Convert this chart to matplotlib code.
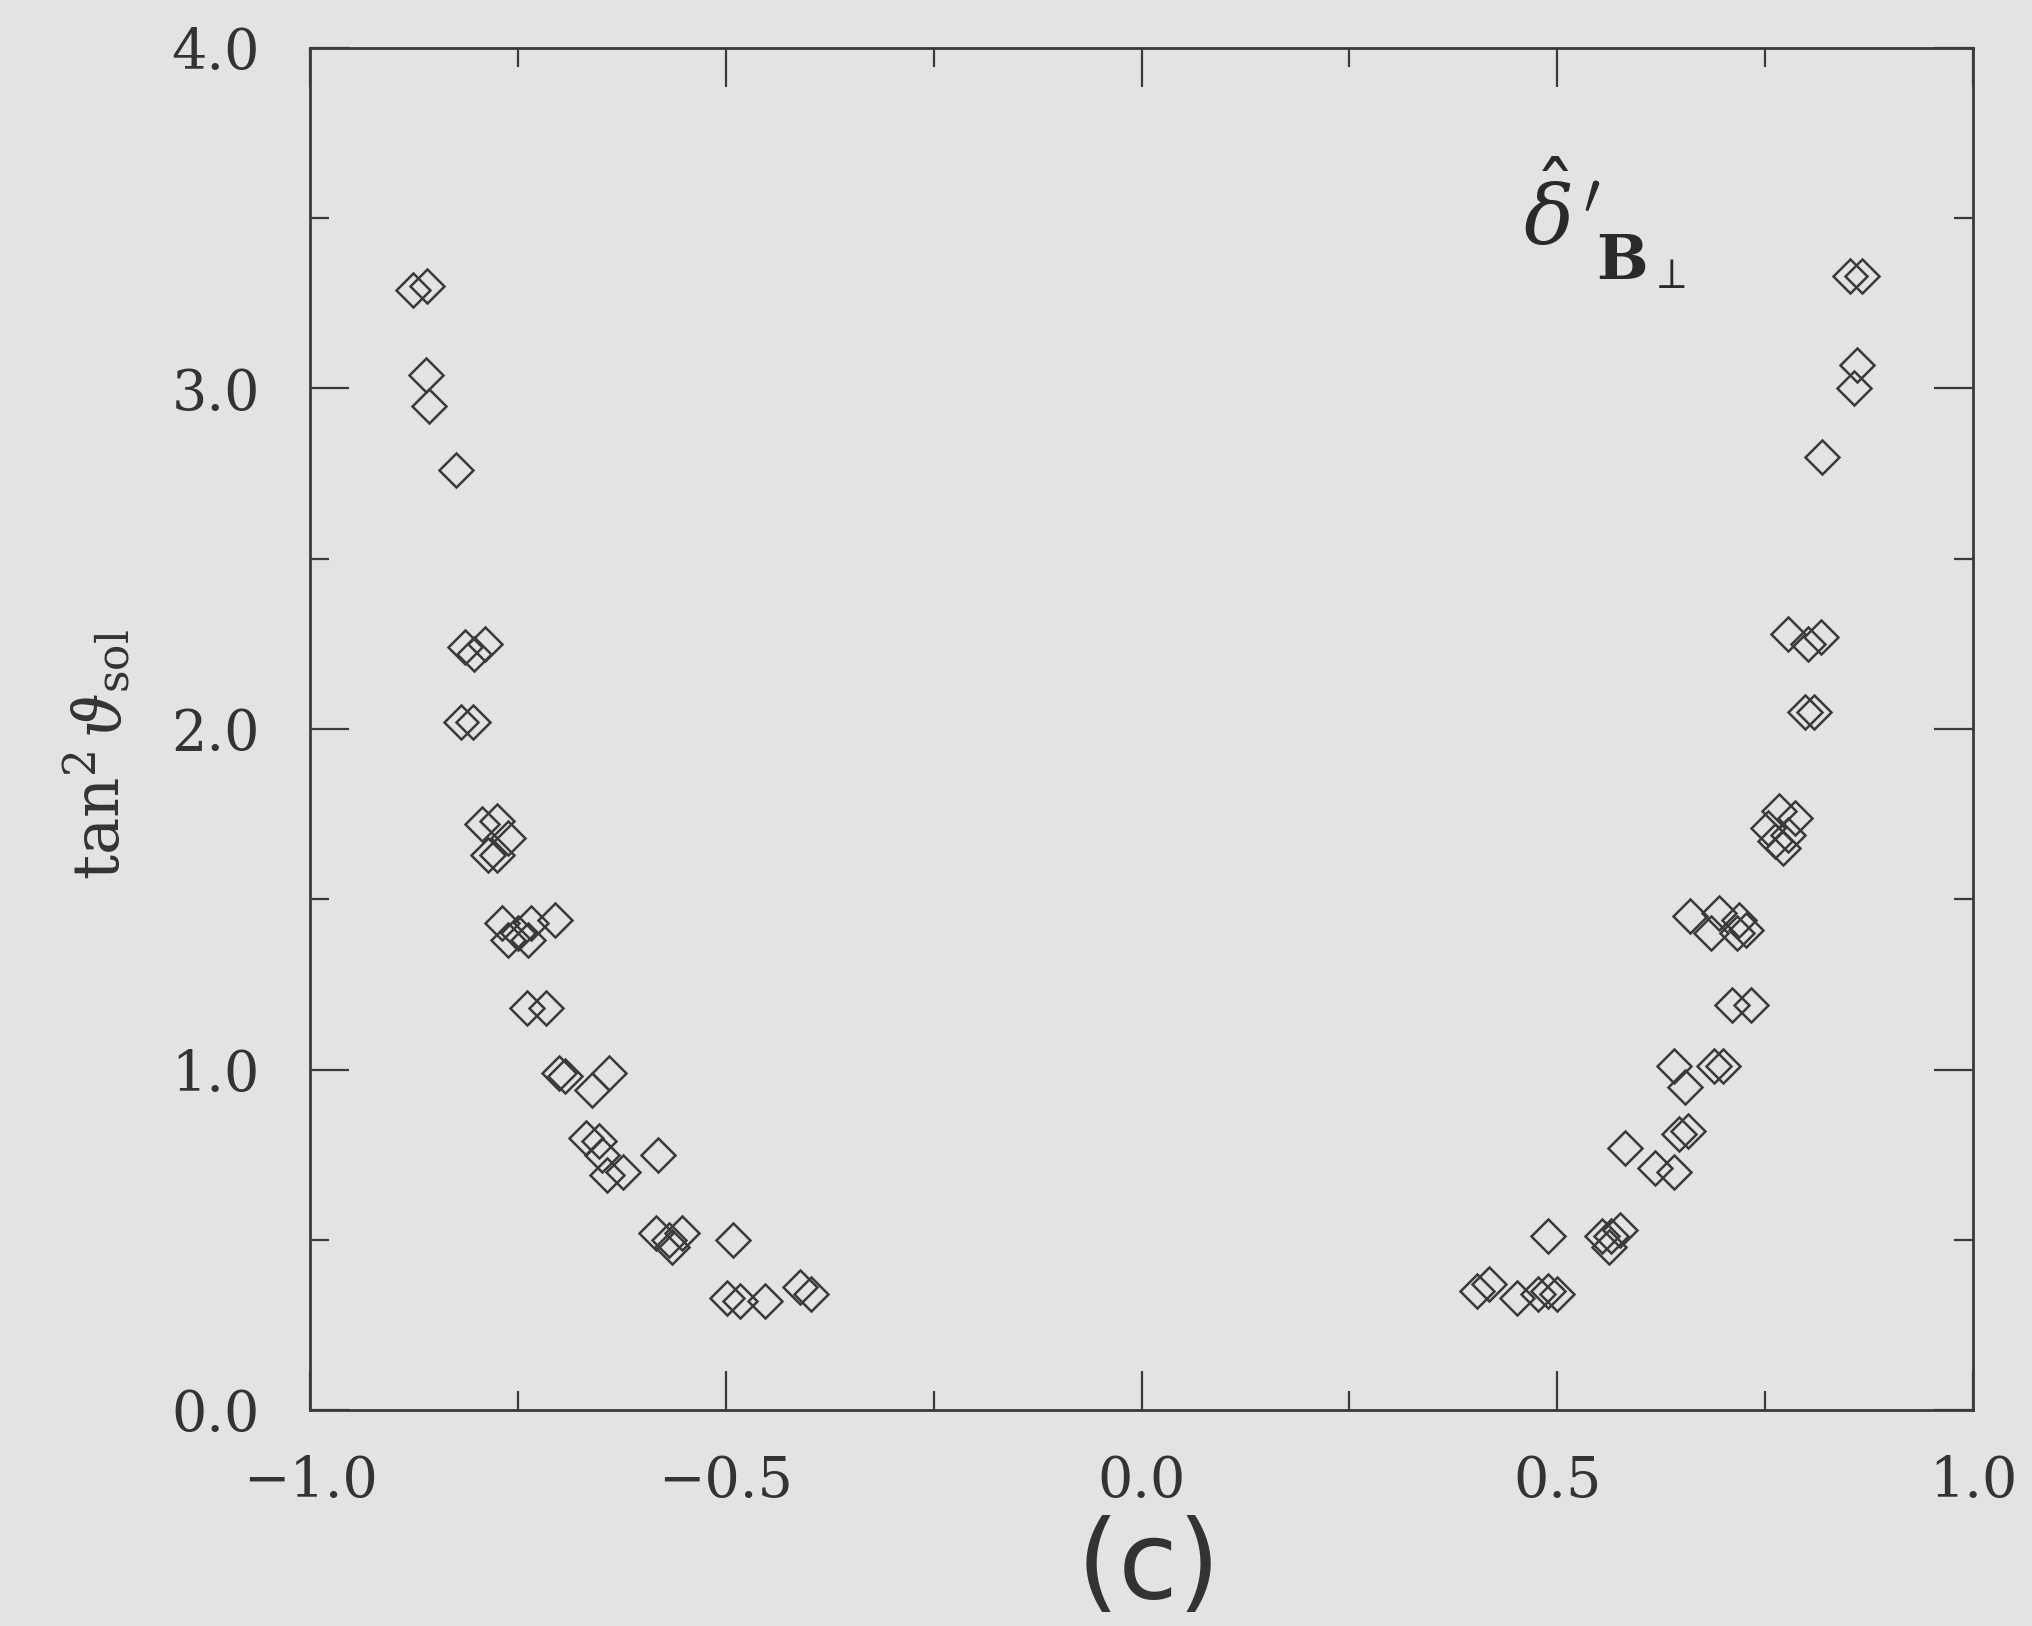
import numpy as np
import matplotlib
matplotlib.use("Agg")
import matplotlib.pyplot as plt
from matplotlib.ticker import MultipleLocator

# left branch (cos-like variable < 0)
x_left = [-0.876, -0.859, -0.860, -0.857, -0.825, -0.814, -0.803, -0.789, -0.818, -0.804,
          -0.793, -0.775, -0.762, -0.786, -0.775, -0.769, -0.750, -0.734, -0.705, -0.762,
          -0.738, -0.739, -0.716, -0.700, -0.693, -0.661, -0.640, -0.668, -0.652, -0.649,
          -0.643, -0.623, -0.582, -0.584, -0.568, -0.553, -0.565, -0.491, -0.498, -0.483,
          -0.453, -0.411, -0.398]
y_left = [3.29, 3.30, 3.04, 2.95, 2.76, 2.24, 2.22, 2.25, 2.02, 2.02,
          1.72, 1.73, 1.68, 1.63, 1.63, 1.43, 1.40, 1.43, 1.44, 1.38,
          1.38, 1.18, 1.18, 0.99, 0.98, 0.94, 0.99, 0.80, 0.79, 0.75,
          0.69, 0.70, 0.75, 0.52, 0.50, 0.52, 0.48, 0.50, 0.33, 0.32,
          0.32, 0.36, 0.34]

# right branch
x_right = [0.404, 0.418, 0.452, 0.477, 0.489, 0.500, 0.489, 0.554, 0.565, 0.575,
           0.562, 0.581, 0.618, 0.640, 0.640, 0.646, 0.657, 0.654, 0.688, 0.699,
           0.710, 0.733, 0.660, 0.685, 0.694, 0.719, 0.716, 0.727, 0.753, 0.767,
           0.786, 0.762, 0.772, 0.778, 0.778, 0.801, 0.817, 0.798, 0.809, 0.818,
           0.857, 0.860, 0.852, 0.866]
y_right = [0.35, 0.37, 0.33, 0.34, 0.35, 0.34, 0.51, 0.51, 0.51, 0.53,
           0.48, 0.77, 0.71, 0.70, 1.01, 0.81, 0.82, 0.95, 1.01, 1.01,
           1.19, 1.19, 1.45, 1.40, 1.46, 1.44, 1.40, 1.41, 1.71, 1.76,
           1.74, 1.67, 1.65, 1.69, 2.28, 2.25, 2.27, 2.05, 2.05, 2.80,
           3.00, 3.07, 3.33, 3.33]

x_ticks = [-1.0, -0.5, 0.0, 0.5, 1.0]
y_ticks = [0.0, 1.0, 2.0, 3.0, 4.0]

bg = "#e3e3e3"
ink = "#3a3a3a"

plt.rcParams['mathtext.fontset'] = 'dejavuserif'

fig = plt.figure(figsize=(20.33, 16.26), dpi=100, facecolor=bg)
ax = fig.add_axes([310 / 2033, 1 - 1410 / 1626, 1663 / 2033, 1362 / 1626])
ax.set_facecolor(bg)

ax.plot(x_left + x_right, y_left + y_right, linestyle="none", marker="D",
        markersize=17.5, markerfacecolor="none", markeredgecolor=ink, markeredgewidth=1.8)

ax.set_xlim(-1.0, 1.0)
ax.set_ylim(0.0, 4.0)
ax.set_xticks(x_ticks)
ax.set_yticks(y_ticks)
ax.set_xticklabels(["\u22121.0", "\u22120.5", "0.0", "0.5", "1.0"])
ax.set_yticklabels(["0.0", "1.0", "2.0", "3.0", "4.0"])
ax.xaxis.set_minor_locator(MultipleLocator(0.25))
ax.yaxis.set_minor_locator(MultipleLocator(0.5))

for s in ax.spines.values():
    s.set_linewidth(2.0)
    s.set_color(ink)

ax.tick_params(which="both", direction="in", top=True, right=True, color=ink)
ax.tick_params(which="major", length=28, width=1.6)
ax.tick_params(which="minor", length=14, width=1.6)
ax.tick_params(axis="x", which="major", pad=32, labelsize=40, labelcolor="#333333")
ax.tick_params(axis="y", which="major", pad=36, labelsize=40, labelcolor="#333333")
for lab in ax.get_xticklabels() + ax.get_yticklabels():
    lab.set_family("DejaVu Serif")

fig.text(97 / 2033, 1 - 755 / 1626, r"$\mathrm{tan}^{2}\,\vartheta_{\mathrm{sol}}$",
         rotation=90, ha="center", va="center", fontsize=45, color="#333333")

fig.text(1149 / 2033, 1 - 1568 / 1626, "(c)", ha="center", va="center",
         fontsize=78, family="DejaVu Sans", color="#333333")

# hand-written style label in the upper right
ax.text(0.505, 3.51, r"$\hat{\delta}^{\,\prime}$", ha="center", va="center",
        fontsize=60, color="#2a2a2a")
ax.text(0.60, 3.37, r"$\mathbf{B}_{\perp}$", ha="center", va="center",
        fontsize=44, color="#2a2a2a")

fig.savefig("out.png", dpi=100, facecolor=bg)
